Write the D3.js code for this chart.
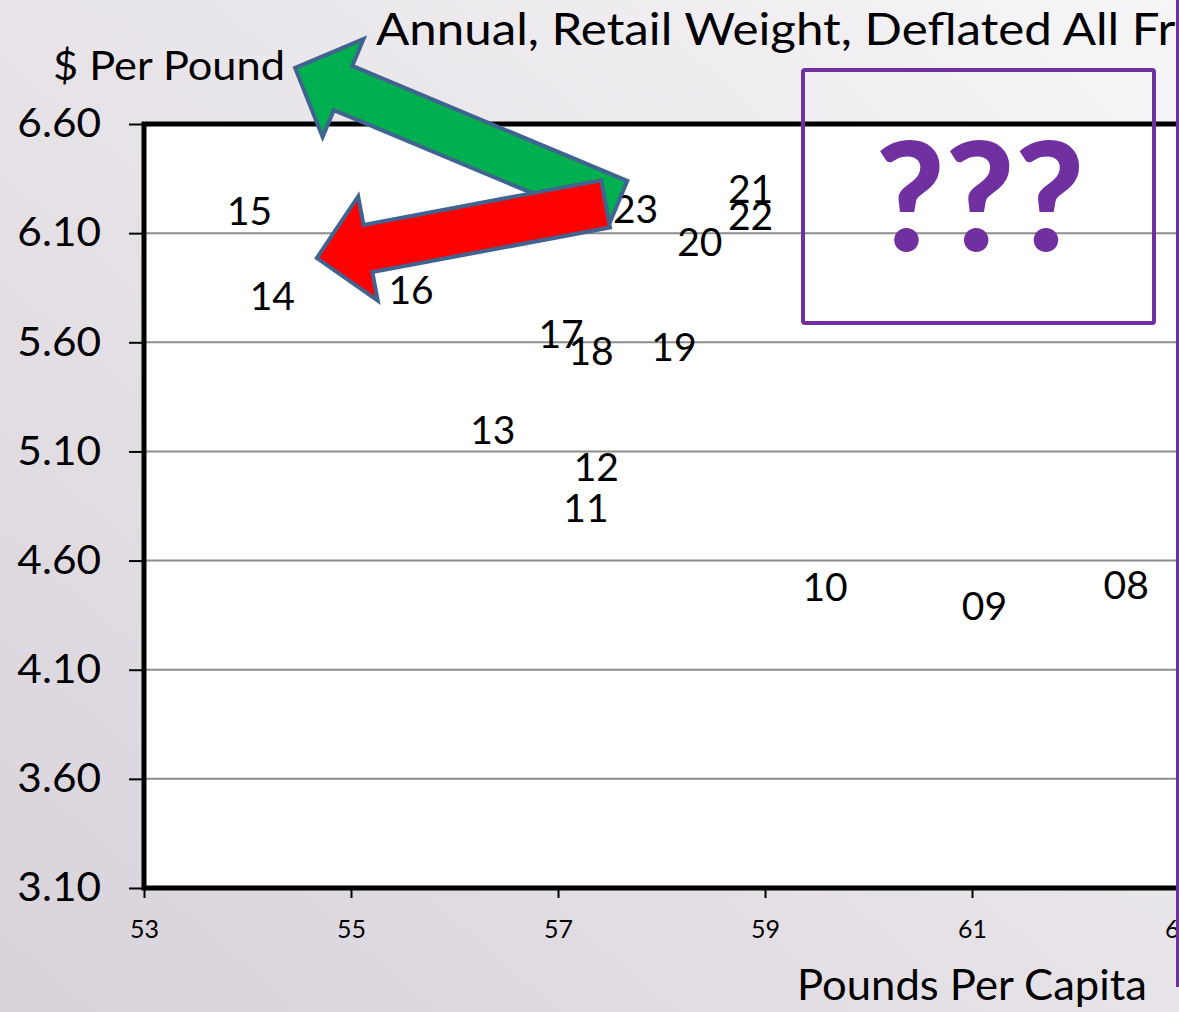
<!DOCTYPE html>
<html><head><meta charset="utf-8">
<script src="https://cdn.jsdelivr.net/npm/d3@7"></script>
<style>html,body{margin:0;padding:0;overflow:hidden}svg{display:block;font-family:Lato,"Open Sans",sans-serif}</style>
</head><body><div id="chart"></div>
<script>
const W=1179,H=1012;
// year labels and their (pounds per capita, $ per pound) positions
const years=['08','09','10','11','12','13','14','15','16','17','18','19','20','21','22','23'];
const pounds=[62.49,61.12,59.58,57.27,57.37,56.37,54.24,54.02,55.58,57.03,57.32,58.12,58.37,58.86,58.86,57.75];
const prices=[4.49,4.39,4.48,4.84,5.03,5.20,5.81,6.20,5.84,5.64,5.56,5.58,6.06,6.30,6.18,6.21];
const yTicks=[3.10,3.60,4.10,4.60,5.10,5.60,6.10,6.60];
const xTicks=[53,55,57,59,61,63];
const title='Annual, Retail Weight, Deflated All Fresh Fruit';
// annotation arrows: tail -> tip in data units
const arrows=[{fill:'#00b050',from:[57.58,6.238],to:[54.46,6.857]},{fill:'#ff0000',from:[57.46,6.234],to:[54.67,5.986]}];

const svg=d3.select('#chart').append('svg').attr('width',W).attr('height',H);
const defs=svg.append('defs');
const bg=defs.append('linearGradient').attr('id','bg').attr('x1','100%').attr('y1','0%').attr('x2','0%').attr('y2','100%');
bg.append('stop').attr('offset','0%').attr('stop-color','#f6f5f7');
bg.append('stop').attr('offset','100%').attr('stop-color','#d8d2da');
svg.append('rect').attr('width',W).attr('height',H).attr('fill','url(#bg)');

const x=d3.scaleLinear().domain([53,63]).range([144,1179]);
const y=d3.scaleLinear().domain([3.10,6.60]).range([888,124]);

// stretch a text horizontally so its first n chars span w px
function fit(t,w,n){const el=t.node();const len=n?el.getSubStringLength(0,n):el.getComputedTextLength();
  const k=w/len,ax=+t.attr('x');
  t.attr('transform',`translate(${ax},0) scale(${k},1) translate(${-ax},0)`);}

svg.append('rect').attr('x',x(53)).attr('y',y(6.60)).attr('width',x(63.5)-x(53)).attr('height',y(3.10)-y(6.60)).attr('fill','#fff');
// gridlines
svg.append('g').selectAll('line').data(yTicks.slice(1,-1)).join('line')
  .attr('x1',x(53)).attr('x2',x(63.5)).attr('y1',d=>y(d)).attr('y2',d=>y(d)).attr('stroke','#8c8c8c').attr('stroke-width',2);

const ya=svg.append('g').attr('transform',`translate(${x(53)},0)`)
  .call(d3.axisLeft(y).tickValues(yTicks).tickFormat(d3.format('.2f')).tickSize(15).tickPadding(31));
ya.select('.domain').remove();
ya.selectAll('line').attr('stroke','#000').attr('stroke-width',2);
ya.selectAll('text').attr('font-size',40).attr('fill','#000').attr('font-family','Lato')
  .attr('transform','translate(-97,0) scale(1.06,1) translate(97,0)');

const xa=svg.append('g').attr('transform',`translate(0,${y(3.10)})`)
  .call(d3.axisBottom(x).tickValues(xTicks).tickFormat(d3.format('d')).tickSize(10).tickPadding(22));
xa.select('.domain').remove();
xa.selectAll('line').attr('stroke','#000').attr('stroke-width',2);
xa.selectAll('text').attr('font-size',25).attr('fill','#000').attr('font-family','Lato');

// frame
svg.append('rect').attr('x',x(53)).attr('y',y(6.60)).attr('width',x(63.5)-x(53)).attr('height',y(3.10)-y(6.60))
  .attr('fill','none').attr('stroke','#000').attr('stroke-width',5);

// year labels
svg.append('g').selectAll('text').data(years).join('text')
  .attr('x',(d,i)=>x(pounds[i])).attr('y',(d,i)=>y(prices[i])).attr('dy',14)
  .attr('text-anchor','middle').attr('font-size',39).attr('fill','#000').text(d=>d);

// arrows
function arrowPath(a){
  const t=[x(a.to[0]),y(a.to[1])],f=[x(a.from[0]),y(a.from[1])];
  const len=Math.hypot(f[0]-t[0],f[1]-t[1]),ang=Math.atan2(t[1]-f[1],t[0]-f[0])*180/Math.PI;
  const sw=24,hw=53,hl=52;
  const pts=[[0,-sw],[len-hl,-sw],[len-hl,-hw],[len,0],[len-hl,hw],[len-hl,sw],[0,sw]];
  return {d:'M'+pts.map(p=>p.join(',')).join('L')+'Z',tr:`translate(${f[0]},${f[1]}) rotate(${ang})`};
}
arrows.forEach(a=>{const p=arrowPath(a);
  svg.append('path').attr('d',p.d).attr('transform',p.tr).attr('fill',a.fill).attr('stroke','#41638f').attr('stroke-width',4).attr('stroke-linejoin','miter');
});

// titles
fit(svg.append('text').attr('x',53).attr('y',80).attr('font-size',41).attr('fill','#000').text('$ Per Pound'),232);
fit(svg.append('text').attr('x',376).attr('y',45).attr('font-size',44).attr('fill','#000').text(title),756,36);
fit(svg.append('text').attr('x',1147).attr('y',1000).attr('text-anchor','end').attr('font-size',42).attr('fill','#000').text('Pounds Per Capita'),350);

// question box
svg.append('rect').attr('x',803).attr('y',70).attr('width',351).attr('height',253).attr('rx',2)
  .attr('fill','none').attr('stroke','#7030a0').attr('stroke-width',4);
svg.append('text').attr('x',980).attr('y',251).attr('text-anchor','middle').attr('font-size',150).attr('font-weight',900)
  .attr('fill','#7030a0').text('???');
svg.append('line').attr('x1',1177.5).attr('x2',1177.5).attr('y1',0).attr('y2',987).attr('stroke','#7030a0').attr('stroke-width',3);
</script></body></html>
